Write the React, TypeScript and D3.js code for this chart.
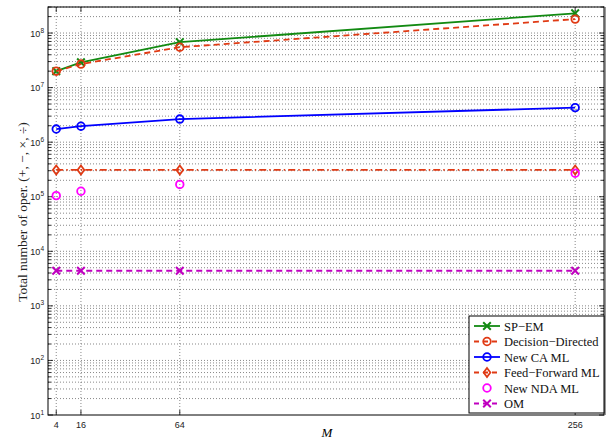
import React, { useEffect, useRef } from 'react';
import * as d3 from 'd3';

const mValues = [4, 16, 64, 256];
const xTicks = [4, 16, 64, 256];
const yDecades = [1, 2, 3, 4, 5, 6, 7, 8];

const spEm = [2.0e7, 2.9e7, 6.8e7, 2.3e8];
const decisionDirected = [2.0e7, 2.7e7, 5.5e7, 1.8e8];
const newCaMl = [1.74e6, 1.96e6, 2.65e6, 4.3e6];
const feedForwardMl = [3.1e5, 3.1e5, 3.1e5, 3.1e5];
const newNdaMl = [1.05e5, 1.26e5, 1.68e5, 2.7e5];
const om = [4.4e3, 4.4e3, 4.4e3, 4.4e3];

const series = [
  { name: 'SP\u2212EM', values: spEm, color: '#128a12', dash: null, marker: 'x', line: true },
  { name: 'Decision\u2212Directed', values: decisionDirected, color: '#e03a14', dash: '6,4', marker: 'o', line: true },
  { name: 'New CA ML', values: newCaMl, color: '#0000ff', dash: null, marker: 'o', line: true },
  { name: 'Feed\u2212Forward ML', values: feedForwardMl, color: '#e03a14', dash: '7,3,1.5,3', marker: 'd', line: true },
  { name: 'New NDA ML', values: newNdaMl, color: '#ff00ff', dash: null, marker: 'o', line: false },
  { name: 'OM', values: om, color: '#c000c0', dash: '6,4', marker: 'x', line: true },
];

const W = 613;
const H = 440;
const margin = { top: 7, right: 9, bottom: 25, left: 48 };

const drawMarker = (g, type, cx, cy, color) => {
  if (type === 'o') {
    g.append('circle').attr('cx', cx).attr('cy', cy).attr('r', 3.8)
      .attr('fill', 'none').attr('stroke', color).attr('stroke-width', 1.8);
  } else if (type === 'x') {
    const s = 3.8;
    g.append('path')
      .attr('d', `M${cx - s},${cy - s}L${cx + s},${cy + s}M${cx - s},${cy + s}L${cx + s},${cy - s}`)
      .attr('stroke', color).attr('stroke-width', 2).attr('fill', 'none');
  } else if (type === 'd') {
    const s = 4.5;
    g.append('path')
      .attr('d', `M${cx},${cy - s}L${cx + s * 0.75},${cy}L${cx},${cy + s}L${cx - s * 0.75},${cy}Z`)
      .attr('stroke', color).attr('stroke-width', 1.8).attr('fill', 'none');
  }
};

const Chart = () => {
  const ref = useRef(null);

  useEffect(() => {
    const svg = d3.select(ref.current);
    svg.selectAll('*').remove();

    const x = d3.scaleLinear().domain([0, 270]).range([margin.left, W - margin.right]);
    const y = d3.scaleLog().domain([10, 3e8]).range([H - margin.bottom, margin.top]);
    const [x0, x1] = x.range();
    const [yb, yt] = y.range();

    // grid
    const grid = svg.append('g').attr('stroke', '#555').attr('stroke-width', 0.7)
      .attr('stroke-dasharray', '1,2');
    xTicks.forEach(t => {
      grid.append('line').attr('x1', x(t)).attr('x2', x(t)).attr('y1', yt).attr('y2', yb);
    });
    const yMinor = [];
    yDecades.forEach(k => {
      for (let m = 1; m <= 9; m++) {
        const v = m * Math.pow(10, k);
        if (v > 10 && v <= 3e8) yMinor.push(v);
      }
    });
    yMinor.forEach(v => {
      grid.append('line').attr('x1', x0).attr('x2', x1).attr('y1', y(v)).attr('y2', y(v));
    });

    // ticks
    const ticks = svg.append('g').attr('stroke', '#000').attr('stroke-width', 0.8);
    yMinor.concat([10]).forEach(v => {
      const major = Math.abs(Math.log10(v) - Math.round(Math.log10(v))) < 1e-9;
      const len = major ? 5 : 3;
      ticks.append('line').attr('x1', x0).attr('x2', x0 + len).attr('y1', y(v)).attr('y2', y(v));
      ticks.append('line').attr('x1', x1).attr('x2', x1 - len).attr('y1', y(v)).attr('y2', y(v));
    });
    xTicks.forEach(t => {
      ticks.append('line').attr('x1', x(t)).attr('x2', x(t)).attr('y1', yb).attr('y2', yb - 5);
      ticks.append('line').attr('x1', x(t)).attr('x2', x(t)).attr('y1', yt).attr('y2', yt + 5);
    });

    // series
    series.forEach(s => {
      const g = svg.append('g');
      if (s.line) {
        const line = d3.line().x((d, i) => x(mValues[i])).y(d => y(d));
        g.append('path').datum(s.values).attr('d', line).attr('fill', 'none')
          .attr('stroke', s.color).attr('stroke-width', 1.8)
          .attr('stroke-dasharray', s.dash);
      }
      s.values.forEach((v, i) => drawMarker(g, s.marker, x(mValues[i]), y(v), s.color));
    });

    // frame
    svg.append('rect').attr('x', x0).attr('y', yt).attr('width', x1 - x0).attr('height', yb - yt)
      .attr('fill', 'none').attr('stroke', '#000').attr('stroke-width', 1);
    svg.append('line').attr('x1', x1 + 1).attr('x2', x1 + 1).attr('y1', yt).attr('y2', yb)
      .attr('stroke', '#555').attr('stroke-width', 1.2);

    // tick labels
    const lab = svg.append('g').attr('font-family', 'Liberation Sans, Arial, sans-serif').attr('fill', '#222');
    yDecades.forEach(k => {
      const t = lab.append('text').attr('x', x0 - 4).attr('y', y(Math.pow(10, k)) + 3.5)
        .attr('text-anchor', 'end').attr('font-size', 9);
      t.append('tspan').text('10');
      t.append('tspan').attr('dy', -4).attr('font-size', 6.5).text(String(k));
    });
    xTicks.forEach(t => {
      lab.append('text').attr('x', x(t)).attr('y', yb + 13).attr('text-anchor', 'middle')
        .attr('font-size', 9).text(String(t));
    });

    // axis titles
    svg.append('text').attr('x', 327).attr('y', 437).attr('text-anchor', 'middle')
      .attr('font-family', 'Liberation Serif, serif').attr('font-style', 'italic')
      .attr('font-size', 13).text('M');
    svg.append('text').attr('transform', `translate(27,212) rotate(-90)`)
      .attr('text-anchor', 'middle').attr('font-family', 'Liberation Serif, serif')
      .attr('font-size', 13.5).attr('fill', '#222')
      .text('Total number of oper. (+, \u2212, \u00d7, \u00f7)');

    // legend
    const lx = 469, ly = 316, lw = x1 - 469, lh = yb - 2 - 316;
    const leg = svg.append('g');
    leg.append('rect').attr('x', lx).attr('y', ly).attr('width', lw).attr('height', lh)
      .attr('fill', '#fff').attr('stroke', '#000').attr('stroke-width', 1);
    series.forEach((s, i) => {
      const cy = ly + 10 + i * 15.5;
      if (s.line) {
        leg.append('line').attr('x1', lx + 5).attr('x2', lx + 31).attr('y1', cy).attr('y2', cy)
          .attr('stroke', s.color).attr('stroke-width', 1.8).attr('stroke-dasharray', s.dash ? '5,4' : null);
      }
      drawMarker(leg, s.marker, lx + 18, cy, s.color);
      leg.append('text').attr('x', lx + 35).attr('y', cy + 4.5)
        .attr('font-family', 'Liberation Serif, serif').attr('font-size', 12.5).attr('fill', '#111')
        .text(s.name);
    });
  }, []);

  return <svg ref={ref} width={W} height={H} style={{ position: 'absolute', left: 0, top: 0, background: '#fff' }} />;
};

export default function App() {
  return <Chart />;
}
